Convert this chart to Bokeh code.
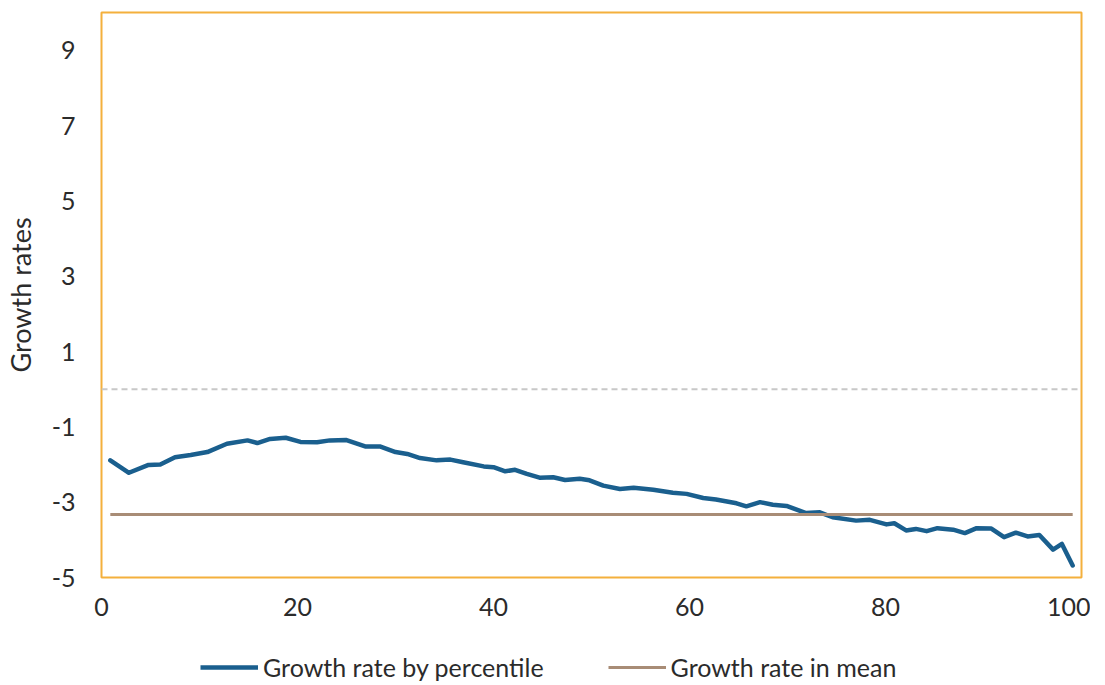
from bokeh.plotting import figure
from bokeh.layouts import column
from bokeh.models import Range1d, FixedTicker, Span, Legend, LegendItem
from bokeh.embed import file_html
from bokeh.resources import INLINE

percentile = [0.9, 2.8, 4.8, 6.0, 7.5, 9.1, 10.8, 12.8, 14.9, 15.9, 17.2, 18.8, 20.3, 22.0, 23.3, 25.0,
              26.9, 28.4, 30.0, 31.2, 32.5, 34.2, 35.6, 36.9, 39.0, 40.0, 41.2, 42.2, 43.4, 44.7, 46.1,
              47.3, 48.8, 49.8, 51.2, 52.9, 54.3, 56.3, 58.3, 59.7, 61.4, 62.7, 64.8, 65.8, 67.2, 68.5,
              69.9, 71.9, 73.3, 74.6, 77.0, 78.4, 80.1, 80.9, 82.1, 83.1, 84.2, 85.3, 86.9, 88.1, 89.3,
              90.8, 92.1, 93.3, 94.5, 95.7, 97.1, 98.0, 99.1]
growth_by_pct = [-1.89, -2.22, -2.01, -2.00, -1.81, -1.75, -1.67, -1.45, -1.36, -1.43, -1.32, -1.29, -1.40,
                 -1.41, -1.36, -1.35, -1.52, -1.52, -1.67, -1.72, -1.83, -1.89, -1.87, -1.94, -2.05, -2.07,
                 -2.18, -2.14, -2.25, -2.35, -2.34, -2.41, -2.38, -2.42, -2.56, -2.65, -2.62, -2.67, -2.75,
                 -2.78, -2.89, -2.93, -3.03, -3.11, -3.00, -3.07, -3.10, -3.29, -3.27, -3.40, -3.49, -3.47,
                 -3.59, -3.56, -3.75, -3.71, -3.77, -3.69, -3.73, -3.82, -3.69, -3.70, -3.93, -3.81, -3.91,
                 -3.87, -4.26, -4.11, -4.68]
mean_x = [0.9, 99.1]
mean_growth = [-3.33, -3.33]
x_ticks = [0, 20, 40, 60, 80, 100]
y_ticks = [-5, -3, -1, 1, 3, 5, 7, 9]
y_tick_labels = ["-5", "-3", "-1", "1", "3", "5", "7", "9"]
series_names = ["Growth rate by percentile", "Growth rate in mean"]

FONT = "Lato"
TXT = "#2b2b2b"
BLUE = "#1A5F8E"
BROWN = "#A88C76"

p = figure(width=1090, height=632, output_backend="svg", toolbar_location=None,
           x_range=Range1d(0, 100), y_range=Range1d(-5, 10),
           min_border_left=97, min_border_top=12, min_border_right=9, min_border_bottom=55)

p.outline_line_color = "#F4B03C"
p.outline_line_width = 2
p.xgrid.visible = False
p.ygrid.visible = False

zero = Span(location=0, dimension="width", line_color="#C8C8C8", line_width=2, line_dash="6 4")
p.add_layout(zero)

p.line(percentile, growth_by_pct, line_color=BLUE, line_width=4.5, line_join="round", line_cap="round")
p.line(mean_x, mean_growth, line_color=BROWN, line_width=3)

for ax in (p.xaxis[0], p.yaxis[0]):
    ax.axis_line_color = None
    ax.major_tick_line_color = None
    ax.minor_tick_line_color = None
    ax.major_label_text_font = FONT
    ax.major_label_text_font_size = "25px"
    ax.major_label_text_color = TXT

p.xaxis.ticker = FixedTicker(ticks=x_ticks)
p.yaxis.ticker = FixedTicker(ticks=y_ticks)
p.yaxis.major_label_overrides = {t: s for t, s in zip(y_ticks, y_tick_labels)}
p.xaxis.major_label_standoff = 14
p.yaxis.major_label_standoff = 20
p.yaxis.axis_label = "Growth rates"
p.yaxis.axis_label_text_font = FONT
p.yaxis.axis_label_text_font_style = "normal"
p.yaxis.axis_label_text_font_size = "27px"
p.yaxis.axis_label_text_color = TXT
p.yaxis.axis_label_standoff = 12

# legend strip
nan = float("nan")
lf = figure(width=1090, height=50, output_backend="svg", toolbar_location=None,
            x_range=Range1d(0, 1), y_range=Range1d(0, 1), min_border=0,
            x_axis_location=None, y_axis_location=None)
lf.grid.visible = False
lf.outline_line_color = None
d1 = lf.line([nan], [nan], line_color=BLUE, line_width=4.5)
d2 = lf.line([nan], [nan], line_color=BROWN, line_width=3)
legend = Legend(items=[LegendItem(label=series_names[0], renderers=[d1]),
                       LegendItem(label=series_names[1], renderers=[d2])],
                orientation="horizontal", location=(99, 0),
                label_text_font=FONT, label_text_font_size="25px", label_text_color=TXT,
                glyph_width=58, glyph_height=20, label_height=20, label_standoff=5, spacing=64,
                border_line_color=None, background_fill_alpha=0, margin=0, padding=0)
lf.add_layout(legend)

open("out.html", "w").write(file_html(column(p, lf, spacing=0), INLINE))
